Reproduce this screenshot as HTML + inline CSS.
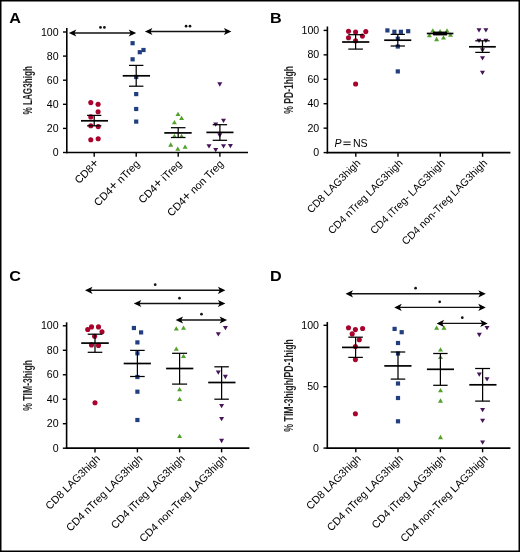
<!DOCTYPE html>
<html><head><meta charset="utf-8"><title>Figure</title>
<style>
html,body{margin:0;padding:0;background:#fff;}
body{width:520px;height:552px;overflow:hidden;}
svg{display:block;will-change:transform;}
text{font-family:"Liberation Sans",sans-serif;fill:#000;}
</style></head>
<body>
<svg width="520" height="552" viewBox="0 0 520 552">
<rect x="0" y="0" width="520" height="552" fill="#fff"/>
<text x="0" y="0" font-size="15.55" font-weight="bold" transform="translate(9.2 22.5) scale(1.04 1)">A</text>
<line x1="66.8" y1="28" x2="66.8" y2="153.25" stroke="#000" stroke-width="1.6"/>
<line x1="63" y1="152.5" x2="66.8" y2="152.5" stroke="#000" stroke-width="1.4"/>
<text x="58.6" y="156.1" font-size="10.6" text-anchor="end">0</text>
<line x1="63" y1="128.4" x2="66.8" y2="128.4" stroke="#000" stroke-width="1.4"/>
<text x="58.6" y="132" font-size="10.6" text-anchor="end">20</text>
<line x1="63" y1="104.3" x2="66.8" y2="104.3" stroke="#000" stroke-width="1.4"/>
<text x="58.6" y="107.9" font-size="10.6" text-anchor="end">40</text>
<line x1="63" y1="80.2" x2="66.8" y2="80.2" stroke="#000" stroke-width="1.4"/>
<text x="58.6" y="83.8" font-size="10.6" text-anchor="end">60</text>
<line x1="63" y1="56.1" x2="66.8" y2="56.1" stroke="#000" stroke-width="1.4"/>
<text x="58.6" y="59.7" font-size="10.6" text-anchor="end">80</text>
<line x1="63" y1="32" x2="66.8" y2="32" stroke="#000" stroke-width="1.4"/>
<text x="58.6" y="35.6" font-size="10.6" text-anchor="end">100</text>
<line x1="66" y1="152.5" x2="248" y2="152.5" stroke="#000" stroke-width="1.7"/>
<line x1="94.2" y1="152.5" x2="94.2" y2="156.7" stroke="#000" stroke-width="1.4"/>
<line x1="136.2" y1="152.5" x2="136.2" y2="156.7" stroke="#000" stroke-width="1.4"/>
<line x1="178.2" y1="152.5" x2="178.2" y2="156.7" stroke="#000" stroke-width="1.4"/>
<line x1="219.9" y1="152.5" x2="219.9" y2="156.7" stroke="#000" stroke-width="1.4"/>
<text x="99.6" y="163.8" font-size="10.7" text-anchor="end" transform="rotate(-45 99.6 163.8)">CD8<tspan font-size="13.2">+</tspan></text>
<text x="140.4" y="164.5" font-size="10.7" text-anchor="end" transform="rotate(-45 140.4 164.5)">CD4<tspan font-size="13.2">+</tspan> nTreg</text>
<text x="182.4" y="164.5" font-size="10.7" text-anchor="end" transform="rotate(-45 182.4 164.5)">CD4<tspan font-size="13.2">+</tspan> iTreg</text>
<text x="224.1" y="164.5" font-size="10.7" text-anchor="end" transform="rotate(-45 224.1 164.5)">CD4<tspan font-size="13.2">+</tspan> non Treg</text>
<text x="0" y="0" font-size="12.4" text-anchor="middle" font-weight="bold" fill-opacity="0.88" transform="translate(32 90.3) rotate(-90) scale(0.6566 1)">% LAG3high</text>
<circle cx="90.8" cy="102.6" r="2.55" fill="#a9032d"/>
<circle cx="98.1" cy="104.2" r="2.55" fill="#a9032d"/>
<circle cx="98.1" cy="111.8" r="2.55" fill="#a9032d"/>
<circle cx="90.8" cy="116.9" r="2.55" fill="#a9032d"/>
<circle cx="90.8" cy="125.8" r="2.55" fill="#a9032d"/>
<circle cx="98.2" cy="126.6" r="2.55" fill="#a9032d"/>
<circle cx="90.8" cy="139.7" r="2.55" fill="#a9032d"/>
<circle cx="98.2" cy="138.8" r="2.55" fill="#a9032d"/>
<line x1="81" y1="120.8" x2="108" y2="120.8" stroke="#000" stroke-width="1.7"/>
<line x1="94.2" y1="115.4" x2="94.2" y2="125.8" stroke="#000" stroke-width="1.25"/>
<line x1="87.1" y1="115.4" x2="101.3" y2="115.4" stroke="#000" stroke-width="1.25"/>
<line x1="87.1" y1="125.8" x2="101.3" y2="125.8" stroke="#000" stroke-width="1.25"/>
<rect x="130.5" y="41.1" width="4.2" height="4.2" fill="#213f7e"/>
<rect x="141.4" y="47.9" width="4.2" height="4.2" fill="#213f7e"/>
<rect x="137.7" y="50.1" width="4.2" height="4.2" fill="#213f7e"/>
<rect x="130.5" y="57.2" width="4.2" height="4.2" fill="#213f7e"/>
<rect x="134.1" y="74.9" width="4.2" height="4.2" fill="#213f7e"/>
<rect x="134.1" y="92" width="4.2" height="4.2" fill="#213f7e"/>
<rect x="134.1" y="106.9" width="4.2" height="4.2" fill="#213f7e"/>
<rect x="134.1" y="119.5" width="4.2" height="4.2" fill="#213f7e"/>
<line x1="122.7" y1="75.8" x2="150" y2="75.8" stroke="#000" stroke-width="1.7"/>
<line x1="136.2" y1="65.4" x2="136.2" y2="86.2" stroke="#000" stroke-width="1.25"/>
<line x1="129" y1="65.4" x2="143.4" y2="65.4" stroke="#000" stroke-width="1.25"/>
<line x1="129" y1="86.2" x2="143.4" y2="86.2" stroke="#000" stroke-width="1.25"/>
<path d="M178 111.65L180.5 115.95L175.5 115.95Z" fill="#52a12a"/>
<path d="M181.6 115.65L184.1 119.95L179.1 119.95Z" fill="#52a12a"/>
<path d="M174.4 120.05L176.9 124.35L171.9 124.35Z" fill="#52a12a"/>
<path d="M174.4 133.65L176.9 137.95L171.9 137.95Z" fill="#52a12a"/>
<path d="M181.6 133.65L184.1 137.95L179.1 137.95Z" fill="#52a12a"/>
<path d="M170.7 142.35L173.2 146.65L168.2 146.65Z" fill="#52a12a"/>
<path d="M177.8 146.45L180.3 150.75L175.3 150.75Z" fill="#52a12a"/>
<path d="M185.1 144.45L187.6 148.75L182.6 148.75Z" fill="#52a12a"/>
<line x1="164.3" y1="132.9" x2="191.7" y2="132.9" stroke="#000" stroke-width="1.7"/>
<line x1="178.2" y1="127.7" x2="178.2" y2="137.5" stroke="#000" stroke-width="1.25"/>
<line x1="170.9" y1="127.7" x2="185.5" y2="127.7" stroke="#000" stroke-width="1.25"/>
<line x1="170.9" y1="137.5" x2="185.5" y2="137.5" stroke="#000" stroke-width="1.25"/>
<path d="M217.3 82.35L222.3 82.35L219.8 86.65Z" fill="#461459"/>
<path d="M221 118.65L226 118.65L223.5 122.95Z" fill="#461459"/>
<path d="M213.2 122.55L218.2 122.55L215.7 126.85Z" fill="#461459"/>
<path d="M217.2 133.35L222.2 133.35L219.7 137.65Z" fill="#461459"/>
<path d="M206.5 144.25L211.5 144.25L209 148.55Z" fill="#461459"/>
<path d="M213.2 148.05L218.2 148.05L215.7 152.35Z" fill="#461459"/>
<path d="M221 144.25L226 144.25L223.5 148.55Z" fill="#461459"/>
<path d="M227.9 144.05L232.9 144.05L230.4 148.35Z" fill="#461459"/>
<line x1="206.4" y1="132.4" x2="233.5" y2="132.4" stroke="#000" stroke-width="1.7"/>
<line x1="219.9" y1="124.7" x2="219.9" y2="140.3" stroke="#000" stroke-width="1.25"/>
<line x1="212.7" y1="124.7" x2="227.1" y2="124.7" stroke="#000" stroke-width="1.25"/>
<line x1="212.7" y1="140.3" x2="227.1" y2="140.3" stroke="#000" stroke-width="1.25"/>
<line x1="73.9" y1="33" x2="131.1" y2="33" stroke="#111" stroke-width="1.4"/>
<path d="M68.8 33L76.3 29.4L74.4 33L76.3 36.6Z" fill="#000"/>
<path d="M136.2 33L128.7 29.4L130.6 33L128.7 36.6Z" fill="#000"/>
<circle cx="100.5" cy="27.4" r="1.35" fill="#111"/>
<circle cx="104.4" cy="27.4" r="1.35" fill="#111"/>
<line x1="150" y1="31.5" x2="226.3" y2="31.5" stroke="#111" stroke-width="1.4"/>
<path d="M144.9 31.5L152.4 27.9L150.5 31.5L152.4 35.1Z" fill="#000"/>
<path d="M231.4 31.5L223.9 27.9L225.8 31.5L223.9 35.1Z" fill="#000"/>
<circle cx="186.1" cy="26.2" r="1.35" fill="#111"/>
<circle cx="190" cy="26.2" r="1.35" fill="#111"/>
<text x="0" y="0" font-size="15.55" font-weight="bold" transform="translate(270 22.5) scale(1.04 1)">B</text>
<line x1="327.4" y1="26.5" x2="327.4" y2="153.35" stroke="#000" stroke-width="1.6"/>
<line x1="323.6" y1="152.6" x2="327.4" y2="152.6" stroke="#000" stroke-width="1.4"/>
<text x="319.2" y="156.2" font-size="10.6" text-anchor="end">0</text>
<line x1="323.6" y1="128.16" x2="327.4" y2="128.16" stroke="#000" stroke-width="1.4"/>
<text x="319.2" y="131.76" font-size="10.6" text-anchor="end">20</text>
<line x1="323.6" y1="103.72" x2="327.4" y2="103.72" stroke="#000" stroke-width="1.4"/>
<text x="319.2" y="107.32" font-size="10.6" text-anchor="end">40</text>
<line x1="323.6" y1="79.28" x2="327.4" y2="79.28" stroke="#000" stroke-width="1.4"/>
<text x="319.2" y="82.88" font-size="10.6" text-anchor="end">60</text>
<line x1="323.6" y1="54.84" x2="327.4" y2="54.84" stroke="#000" stroke-width="1.4"/>
<text x="319.2" y="58.44" font-size="10.6" text-anchor="end">80</text>
<line x1="323.6" y1="30.4" x2="327.4" y2="30.4" stroke="#000" stroke-width="1.4"/>
<text x="319.2" y="34" font-size="10.6" text-anchor="end">100</text>
<line x1="326.6" y1="152.6" x2="510.4" y2="152.6" stroke="#000" stroke-width="1.7"/>
<line x1="355.8" y1="152.6" x2="355.8" y2="156.8" stroke="#000" stroke-width="1.4"/>
<line x1="398" y1="152.6" x2="398" y2="156.8" stroke="#000" stroke-width="1.4"/>
<line x1="440.3" y1="152.6" x2="440.3" y2="156.8" stroke="#000" stroke-width="1.4"/>
<line x1="482.6" y1="152.6" x2="482.6" y2="156.8" stroke="#000" stroke-width="1.4"/>
<text x="361.1" y="163.7" font-size="10.5" text-anchor="end" transform="rotate(-45 361.1 163.7)">CD8 LAG3high</text>
<text x="403.3" y="163.7" font-size="10.5" text-anchor="end" transform="rotate(-45 403.3 163.7)">CD4 nTreg LAG3high</text>
<text x="445.6" y="163.7" font-size="10.5" text-anchor="end" transform="rotate(-45 445.6 163.7)">CD4 iTreg- LAG3high</text>
<text x="487.9" y="163.7" font-size="10.5" text-anchor="end" transform="rotate(-45 487.9 163.7)">CD4 non-Treg LAG3high</text>
<text x="0" y="0" font-size="12.4" text-anchor="middle" font-weight="bold" fill-opacity="0.88" transform="translate(292.5 89.9) rotate(-90) scale(0.6953 1)">% PD-1high</text>
<text x="334.6" y="146.6" font-size="10.6" font-style="italic">P</text>
<line x1="343.4" y1="142.1" x2="350.6" y2="142.1" stroke="#000" stroke-width="0.95"/>
<line x1="343.4" y1="144.6" x2="350.6" y2="144.6" stroke="#000" stroke-width="0.95"/>
<text x="352.9" y="146.6" font-size="10.6">NS</text>
<circle cx="348.5" cy="31.2" r="2.55" fill="#a9032d"/>
<circle cx="355.6" cy="32.1" r="2.55" fill="#a9032d"/>
<circle cx="365.8" cy="31.6" r="2.55" fill="#a9032d"/>
<circle cx="348.5" cy="37.8" r="2.55" fill="#a9032d"/>
<circle cx="362.4" cy="36.1" r="2.55" fill="#a9032d"/>
<circle cx="355.6" cy="40.8" r="2.55" fill="#a9032d"/>
<circle cx="355.6" cy="84" r="2.55" fill="#a9032d"/>
<line x1="342.1" y1="42" x2="369.3" y2="42" stroke="#000" stroke-width="1.7"/>
<line x1="355.6" y1="34.7" x2="355.6" y2="49.1" stroke="#000" stroke-width="1.25"/>
<line x1="348.3" y1="34.7" x2="362.9" y2="34.7" stroke="#000" stroke-width="1.25"/>
<line x1="348.3" y1="49.1" x2="362.9" y2="49.1" stroke="#000" stroke-width="1.25"/>
<rect x="385.3" y="28.3" width="4.2" height="4.2" fill="#213f7e"/>
<rect x="392.3" y="29.7" width="4.2" height="4.2" fill="#213f7e"/>
<rect x="398.8" y="29.7" width="4.2" height="4.2" fill="#213f7e"/>
<rect x="406.1" y="29.1" width="4.2" height="4.2" fill="#213f7e"/>
<rect x="395.7" y="36.6" width="4.2" height="4.2" fill="#213f7e"/>
<rect x="395.7" y="44.4" width="4.2" height="4.2" fill="#213f7e"/>
<rect x="395.7" y="69.3" width="4.2" height="4.2" fill="#213f7e"/>
<line x1="384.2" y1="40.2" x2="411.3" y2="40.2" stroke="#000" stroke-width="1.7"/>
<line x1="397.8" y1="34.4" x2="397.8" y2="46" stroke="#000" stroke-width="1.25"/>
<line x1="390.65" y1="34.4" x2="404.95" y2="34.4" stroke="#000" stroke-width="1.25"/>
<line x1="390.65" y1="46" x2="404.95" y2="46" stroke="#000" stroke-width="1.25"/>
<path d="M432.8 28.25L435.3 32.55L430.3 32.55Z" fill="#52a12a"/>
<path d="M440.1 29.05L442.6 33.35L437.6 33.35Z" fill="#52a12a"/>
<path d="M447 28.25L449.5 32.55L444.5 32.55Z" fill="#52a12a"/>
<path d="M429.4 33.05L431.9 37.35L426.9 37.35Z" fill="#52a12a"/>
<path d="M450.5 32.55L453 36.85L448 36.85Z" fill="#52a12a"/>
<path d="M436.6 36.85L439.1 41.15L434.1 41.15Z" fill="#52a12a"/>
<path d="M443.5 35.15L446 39.45L441 39.45Z" fill="#52a12a"/>
<line x1="426.8" y1="33.5" x2="453.4" y2="33.5" stroke="#000" stroke-width="1.7"/>
<line x1="440.1" y1="32.2" x2="440.1" y2="34.8" stroke="#000" stroke-width="1.25"/>
<line x1="433.1" y1="32.2" x2="447.1" y2="32.2" stroke="#000" stroke-width="1.25"/>
<line x1="433.1" y1="34.8" x2="447.1" y2="34.8" stroke="#000" stroke-width="1.25"/>
<line x1="433" y1="33.5" x2="447" y2="33.5" stroke="#000" stroke-width="3.0"/>
<path d="M476.5 28.25L481.5 28.25L479 32.55Z" fill="#461459"/>
<path d="M483.4 28.25L488.4 28.25L485.9 32.55Z" fill="#461459"/>
<path d="M476.5 38.65L481.5 38.65L479 42.95Z" fill="#461459"/>
<path d="M483.4 38.65L488.4 38.65L485.9 42.95Z" fill="#461459"/>
<path d="M480 48.15L485 48.15L482.5 52.45Z" fill="#461459"/>
<path d="M480 56.25L485 56.25L482.5 60.55Z" fill="#461459"/>
<path d="M480 70.65L485 70.65L482.5 74.95Z" fill="#461459"/>
<line x1="469" y1="46.8" x2="495.8" y2="46.8" stroke="#000" stroke-width="1.7"/>
<line x1="482.5" y1="40.8" x2="482.5" y2="52.4" stroke="#000" stroke-width="1.25"/>
<line x1="475.25" y1="40.8" x2="489.75" y2="40.8" stroke="#000" stroke-width="1.25"/>
<line x1="475.25" y1="52.4" x2="489.75" y2="52.4" stroke="#000" stroke-width="1.25"/>
<text x="0" y="0" font-size="15.55" font-weight="bold" transform="translate(9.2 281) scale(1.04 1)">C</text>
<line x1="66.6" y1="322.3" x2="66.6" y2="448.95" stroke="#000" stroke-width="1.6"/>
<line x1="62.8" y1="448.2" x2="66.6" y2="448.2" stroke="#000" stroke-width="1.4"/>
<text x="58.6" y="451.8" font-size="10.6" text-anchor="end">0</text>
<line x1="62.8" y1="423.72" x2="66.6" y2="423.72" stroke="#000" stroke-width="1.4"/>
<text x="58.6" y="427.32" font-size="10.6" text-anchor="end">20</text>
<line x1="62.8" y1="399.24" x2="66.6" y2="399.24" stroke="#000" stroke-width="1.4"/>
<text x="58.6" y="402.84" font-size="10.6" text-anchor="end">40</text>
<line x1="62.8" y1="374.76" x2="66.6" y2="374.76" stroke="#000" stroke-width="1.4"/>
<text x="58.6" y="378.36" font-size="10.6" text-anchor="end">60</text>
<line x1="62.8" y1="350.28" x2="66.6" y2="350.28" stroke="#000" stroke-width="1.4"/>
<text x="58.6" y="353.88" font-size="10.6" text-anchor="end">80</text>
<line x1="62.8" y1="325.8" x2="66.6" y2="325.8" stroke="#000" stroke-width="1.4"/>
<text x="58.6" y="329.4" font-size="10.6" text-anchor="end">100</text>
<line x1="65.8" y1="448.2" x2="249.4" y2="448.2" stroke="#000" stroke-width="1.7"/>
<line x1="95" y1="448.2" x2="95" y2="452.4" stroke="#000" stroke-width="1.4"/>
<line x1="137.4" y1="448.2" x2="137.4" y2="452.4" stroke="#000" stroke-width="1.4"/>
<line x1="179.6" y1="448.2" x2="179.6" y2="452.4" stroke="#000" stroke-width="1.4"/>
<line x1="221.6" y1="448.2" x2="221.6" y2="452.4" stroke="#000" stroke-width="1.4"/>
<text x="100.8" y="459.3" font-size="10.72" text-anchor="end" transform="rotate(-45 100.8 459.3)">CD8 LAG3high</text>
<text x="143.2" y="459.3" font-size="10.72" text-anchor="end" transform="rotate(-45 143.2 459.3)">CD4 nTreg LAG3high</text>
<text x="185.4" y="459.3" font-size="10.72" text-anchor="end" transform="rotate(-45 185.4 459.3)">CD4 iTreg LAG3high</text>
<text x="227.4" y="459.3" font-size="10.72" text-anchor="end" transform="rotate(-45 227.4 459.3)">CD4 non-Treg LAG3high</text>
<text x="0" y="0" font-size="12.4" text-anchor="middle" font-weight="bold" fill-opacity="0.88" transform="translate(32 385.35) rotate(-90) scale(0.6958 1)">% TIM-3high</text>
<circle cx="87.7" cy="329.5" r="2.55" fill="#a9032d"/>
<circle cx="91.5" cy="326.9" r="2.55" fill="#a9032d"/>
<circle cx="98.5" cy="326.9" r="2.55" fill="#a9032d"/>
<circle cx="102" cy="331.8" r="2.55" fill="#a9032d"/>
<circle cx="94.6" cy="336.2" r="2.55" fill="#a9032d"/>
<circle cx="91.5" cy="344.9" r="2.55" fill="#a9032d"/>
<circle cx="98.5" cy="345.4" r="2.55" fill="#a9032d"/>
<circle cx="95" cy="402.7" r="2.55" fill="#a9032d"/>
<line x1="81.2" y1="343.1" x2="108.8" y2="343.1" stroke="#000" stroke-width="1.7"/>
<line x1="95" y1="334.2" x2="95" y2="352.3" stroke="#000" stroke-width="1.25"/>
<line x1="87.7" y1="334.2" x2="102.3" y2="334.2" stroke="#000" stroke-width="1.25"/>
<line x1="87.7" y1="352.3" x2="102.3" y2="352.3" stroke="#000" stroke-width="1.25"/>
<rect x="131.8" y="325.9" width="4.2" height="4.2" fill="#213f7e"/>
<rect x="139" y="330.3" width="4.2" height="4.2" fill="#213f7e"/>
<rect x="135.3" y="340.3" width="4.2" height="4.2" fill="#213f7e"/>
<rect x="135.3" y="351.2" width="4.2" height="4.2" fill="#213f7e"/>
<rect x="135.3" y="374.9" width="4.2" height="4.2" fill="#213f7e"/>
<rect x="135.3" y="389.6" width="4.2" height="4.2" fill="#213f7e"/>
<rect x="135.3" y="417.9" width="4.2" height="4.2" fill="#213f7e"/>
<line x1="123.7" y1="363.5" x2="150.9" y2="363.5" stroke="#000" stroke-width="1.7"/>
<line x1="137.4" y1="350.4" x2="137.4" y2="376.5" stroke="#000" stroke-width="1.25"/>
<line x1="130.1" y1="350.4" x2="144.7" y2="350.4" stroke="#000" stroke-width="1.25"/>
<line x1="130.1" y1="376.5" x2="144.7" y2="376.5" stroke="#000" stroke-width="1.25"/>
<path d="M176.3 326.15L178.8 330.45L173.8 330.45Z" fill="#52a12a"/>
<path d="M183.5 325.45L186 329.75L181 329.75Z" fill="#52a12a"/>
<path d="M176.3 346.55L178.8 350.85L173.8 350.85Z" fill="#52a12a"/>
<path d="M183.5 353.75L186 358.05L181 358.05Z" fill="#52a12a"/>
<path d="M179.6 386.95L182.1 391.25L177.1 391.25Z" fill="#52a12a"/>
<path d="M179.6 396.75L182.1 401.05L177.1 401.05Z" fill="#52a12a"/>
<path d="M179.6 433.75L182.1 438.05L177.1 438.05Z" fill="#52a12a"/>
<line x1="166.1" y1="368.5" x2="193.3" y2="368.5" stroke="#000" stroke-width="1.7"/>
<line x1="179.6" y1="353.3" x2="179.6" y2="384.1" stroke="#000" stroke-width="1.25"/>
<line x1="172.1" y1="353.3" x2="187.1" y2="353.3" stroke="#000" stroke-width="1.25"/>
<line x1="172.1" y1="384.1" x2="187.1" y2="384.1" stroke="#000" stroke-width="1.25"/>
<path d="M222.9 325.95L227.9 325.95L225.4 330.25Z" fill="#461459"/>
<path d="M215.8 332.25L220.8 332.25L218.3 336.55Z" fill="#461459"/>
<path d="M215.8 370.55L220.8 370.55L218.3 374.85Z" fill="#461459"/>
<path d="M222.9 374.85L227.9 374.85L225.4 379.15Z" fill="#461459"/>
<path d="M219.1 403.95L224.1 403.95L221.6 408.25Z" fill="#461459"/>
<path d="M219.1 417.05L224.1 417.05L221.6 421.35Z" fill="#461459"/>
<path d="M219.1 438.85L224.1 438.85L221.6 443.15Z" fill="#461459"/>
<line x1="208.2" y1="382.5" x2="235.5" y2="382.5" stroke="#000" stroke-width="1.7"/>
<line x1="221.6" y1="366.8" x2="221.6" y2="399.2" stroke="#000" stroke-width="1.25"/>
<line x1="214.35" y1="366.8" x2="228.85" y2="366.8" stroke="#000" stroke-width="1.25"/>
<line x1="214.35" y1="399.2" x2="228.85" y2="399.2" stroke="#000" stroke-width="1.25"/>
<line x1="90.1" y1="290.3" x2="220.3" y2="290.3" stroke="#111" stroke-width="1.4"/>
<path d="M85 290.3L92.5 286.7L90.6 290.3L92.5 293.9Z" fill="#000"/>
<path d="M225.4 290.3L217.9 286.7L219.8 290.3L217.9 293.9Z" fill="#000"/>
<circle cx="155.2" cy="284.7" r="1.35" fill="#111"/>
<line x1="138.9" y1="303.5" x2="220.3" y2="303.5" stroke="#111" stroke-width="1.4"/>
<path d="M133.8 303.5L141.3 299.9L139.4 303.5L141.3 307.1Z" fill="#000"/>
<path d="M225.4 303.5L217.9 299.9L219.8 303.5L217.9 307.1Z" fill="#000"/>
<circle cx="179.5" cy="298.2" r="1.35" fill="#111"/>
<line x1="180.7" y1="320" x2="222" y2="320" stroke="#111" stroke-width="1.4"/>
<path d="M175.6 320L183.1 316.4L181.2 320L183.1 323.6Z" fill="#000"/>
<path d="M227.1 320L219.6 316.4L221.5 320L219.6 323.6Z" fill="#000"/>
<circle cx="201.5" cy="314.2" r="1.35" fill="#111"/>
<text x="0" y="0" font-size="15.55" font-weight="bold" transform="translate(270 281) scale(1.04 1)">D</text>
<line x1="327.3" y1="322" x2="327.3" y2="448.85" stroke="#000" stroke-width="1.6"/>
<line x1="323.5" y1="448.1" x2="327.3" y2="448.1" stroke="#000" stroke-width="1.4"/>
<text x="319" y="451.7" font-size="10.6" text-anchor="end">0</text>
<line x1="323.5" y1="386.7" x2="327.3" y2="386.7" stroke="#000" stroke-width="1.4"/>
<text x="319" y="390.3" font-size="10.6" text-anchor="end">50</text>
<line x1="323.5" y1="325.3" x2="327.3" y2="325.3" stroke="#000" stroke-width="1.4"/>
<text x="319" y="328.9" font-size="10.6" text-anchor="end">100</text>
<line x1="326.5" y1="448.1" x2="510.4" y2="448.1" stroke="#000" stroke-width="1.7"/>
<line x1="355.8" y1="448.1" x2="355.8" y2="452.3" stroke="#000" stroke-width="1.4"/>
<line x1="398" y1="448.1" x2="398" y2="452.3" stroke="#000" stroke-width="1.4"/>
<line x1="440.4" y1="448.1" x2="440.4" y2="452.3" stroke="#000" stroke-width="1.4"/>
<line x1="482.6" y1="448.1" x2="482.6" y2="452.3" stroke="#000" stroke-width="1.4"/>
<text x="361.6" y="459.2" font-size="10.72" text-anchor="end" transform="rotate(-45 361.6 459.2)">CD8 LAG3high</text>
<text x="403.8" y="459.2" font-size="10.72" text-anchor="end" transform="rotate(-45 403.8 459.2)">CD4 nTreg LAG3high</text>
<text x="446.2" y="459.2" font-size="10.72" text-anchor="end" transform="rotate(-45 446.2 459.2)">CD4 iTreg LAG3high</text>
<text x="488.4" y="459.2" font-size="10.72" text-anchor="end" transform="rotate(-45 488.4 459.2)">CD4 non-Treg LAG3high</text>
<text x="0" y="0" font-size="12.4" text-anchor="middle" font-weight="bold" fill-opacity="0.88" transform="translate(292.5 385.35) rotate(-90) scale(0.7091 1)">% TIM-3high/PD-1high</text>
<circle cx="348.5" cy="327.8" r="2.55" fill="#a9032d"/>
<circle cx="355.4" cy="329.6" r="2.55" fill="#a9032d"/>
<circle cx="362.6" cy="328.5" r="2.55" fill="#a9032d"/>
<circle cx="352.2" cy="333.9" r="2.55" fill="#a9032d"/>
<circle cx="359.3" cy="339.8" r="2.55" fill="#a9032d"/>
<circle cx="355.4" cy="346.5" r="2.55" fill="#a9032d"/>
<circle cx="355.4" cy="359.6" r="2.55" fill="#a9032d"/>
<circle cx="355.4" cy="413.7" r="2.55" fill="#a9032d"/>
<line x1="342" y1="347.4" x2="369.6" y2="347.4" stroke="#000" stroke-width="1.7"/>
<line x1="355.6" y1="337.2" x2="355.6" y2="357.4" stroke="#000" stroke-width="1.25"/>
<line x1="348.35" y1="337.2" x2="362.85" y2="337.2" stroke="#000" stroke-width="1.25"/>
<line x1="348.35" y1="357.4" x2="362.85" y2="357.4" stroke="#000" stroke-width="1.25"/>
<rect x="392.5" y="326.8" width="4.2" height="4.2" fill="#213f7e"/>
<rect x="399.6" y="330.1" width="4.2" height="4.2" fill="#213f7e"/>
<rect x="395.9" y="340.9" width="4.2" height="4.2" fill="#213f7e"/>
<rect x="395.9" y="351.4" width="4.2" height="4.2" fill="#213f7e"/>
<rect x="395.9" y="381.4" width="4.2" height="4.2" fill="#213f7e"/>
<rect x="395.9" y="395.9" width="4.2" height="4.2" fill="#213f7e"/>
<rect x="395.9" y="419.2" width="4.2" height="4.2" fill="#213f7e"/>
<line x1="384.3" y1="365.9" x2="411.5" y2="365.9" stroke="#000" stroke-width="1.7"/>
<line x1="398" y1="352" x2="398" y2="379.1" stroke="#000" stroke-width="1.25"/>
<line x1="390.75" y1="352" x2="405.25" y2="352" stroke="#000" stroke-width="1.25"/>
<line x1="390.75" y1="379.1" x2="405.25" y2="379.1" stroke="#000" stroke-width="1.25"/>
<path d="M436.6 325.55L439.1 329.85L434.1 329.85Z" fill="#52a12a"/>
<path d="M444 325.55L446.5 329.85L441.5 329.85Z" fill="#52a12a"/>
<path d="M440.5 347.25L443 351.55L438 351.55Z" fill="#52a12a"/>
<path d="M440.5 354.65L443 358.95L438 358.95Z" fill="#52a12a"/>
<path d="M440.5 388.05L443 392.35L438 392.35Z" fill="#52a12a"/>
<path d="M440.5 398.35L443 402.65L438 402.65Z" fill="#52a12a"/>
<path d="M440.5 434.85L443 439.15L438 439.15Z" fill="#52a12a"/>
<line x1="426.9" y1="369.3" x2="454" y2="369.3" stroke="#000" stroke-width="1.7"/>
<line x1="440.4" y1="353.5" x2="440.4" y2="385.3" stroke="#000" stroke-width="1.25"/>
<line x1="433.2" y1="353.5" x2="447.6" y2="353.5" stroke="#000" stroke-width="1.25"/>
<line x1="433.2" y1="385.3" x2="447.6" y2="385.3" stroke="#000" stroke-width="1.25"/>
<path d="M484.5 326.05L489.5 326.05L487 330.35Z" fill="#461459"/>
<path d="M476.8 332.85L481.8 332.85L479.3 337.15Z" fill="#461459"/>
<path d="M476.8 372.55L481.8 372.55L479.3 376.85Z" fill="#461459"/>
<path d="M484.5 377.15L489.5 377.15L487 381.45Z" fill="#461459"/>
<path d="M480.1 407.95L485.1 407.95L482.6 412.25Z" fill="#461459"/>
<path d="M480.1 418.75L485.1 418.75L482.6 423.05Z" fill="#461459"/>
<path d="M480.1 440.55L485.1 440.55L482.6 444.85Z" fill="#461459"/>
<line x1="469.3" y1="384.8" x2="496.5" y2="384.8" stroke="#000" stroke-width="1.7"/>
<line x1="482.6" y1="368.5" x2="482.6" y2="401.1" stroke="#000" stroke-width="1.25"/>
<line x1="475.15" y1="368.5" x2="490.05" y2="368.5" stroke="#000" stroke-width="1.25"/>
<line x1="475.15" y1="401.1" x2="490.05" y2="401.1" stroke="#000" stroke-width="1.25"/>
<line x1="350.6" y1="293.8" x2="480.7" y2="293.8" stroke="#111" stroke-width="1.4"/>
<path d="M345.5 293.8L353 290.2L351.1 293.8L353 297.4Z" fill="#000"/>
<path d="M485.8 293.8L478.3 290.2L480.2 293.8L478.3 297.4Z" fill="#000"/>
<circle cx="415.6" cy="288.2" r="1.35" fill="#111"/>
<line x1="399.3" y1="307.4" x2="480.7" y2="307.4" stroke="#111" stroke-width="1.4"/>
<path d="M394.2 307.4L401.7 303.8L399.8 307.4L401.7 311Z" fill="#000"/>
<path d="M485.8 307.4L478.3 303.8L480.2 307.4L478.3 311Z" fill="#000"/>
<circle cx="439.7" cy="301.8" r="1.35" fill="#111"/>
<line x1="441.7" y1="323.4" x2="482.6" y2="323.4" stroke="#111" stroke-width="1.4"/>
<path d="M436.6 323.4L444.1 319.8L442.2 323.4L444.1 327Z" fill="#000"/>
<path d="M487.7 323.4L480.2 319.8L482.1 323.4L480.2 327Z" fill="#000"/>
<circle cx="462.3" cy="317.7" r="1.35" fill="#111"/>
<rect x="0.75" y="0.75" width="518.5" height="550.5" fill="none" stroke="#000" stroke-width="1.5"/>
</svg>
</body></html>
